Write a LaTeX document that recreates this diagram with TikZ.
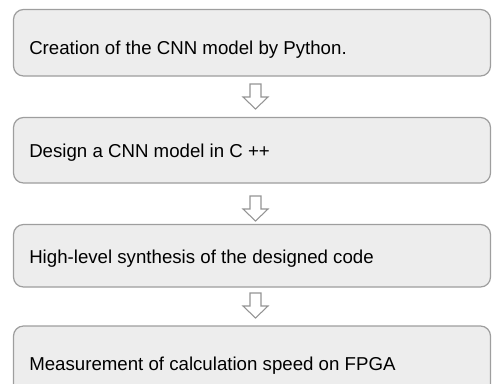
\documentclass[tikz,border=0pt]{standalone}
\usepackage{fontspec}
\setmainfont{Liberation Sans}
\begin{document}
\begin{tikzpicture}[x=0.75pt,y=-0.75pt,
  stepbox/.style={draw=black!38,fill=black!7,line width=0.9pt,rounded corners=7.5pt},
  steptext/.style={anchor=base west,inner sep=0pt,font=\fontsize{14}{16}\selectfont},
  flowarrow/.style={draw=black!42,fill=white,line width=0.8pt,line join=miter}]
\useasboundingbox (0,0) rectangle (492,383);
\clip (0,0) rectangle (492,383);
% boxes
\path[stepbox] (13.5,9.5) rectangle (490.5,76) coordinate (b1se);
\path[stepbox] (13.5,117.5) rectangle (490.5,183);
\path[stepbox] (13.5,224.5) rectangle (490.5,287);
\path[stepbox] (13.5,326) rectangle (490.5,395);
% texts
\node[steptext] (t1) at (29,54) {Creation of the CNN model by Python.};
\node[steptext] (t2) at (29,157) {Design a CNN model in C ++};
\node[steptext] (t3) at (29,263) {High-level synthesis of the designed code};
\node[steptext] (t4) at (29,370) {Measurement of calculation speed on FPGA};
% arrows
\foreach \n/\yy in {a1/84,a2/196,a3/293}{
  \path[flowarrow] (250,\yy) -- (261,\yy) -- (261,\yy+13) -- (268,\yy+13)
    -- (255.5,\yy+25) -- (243,\yy+13) -- (250,\yy+13) -- cycle;
}
\end{tikzpicture}
\end{document}
